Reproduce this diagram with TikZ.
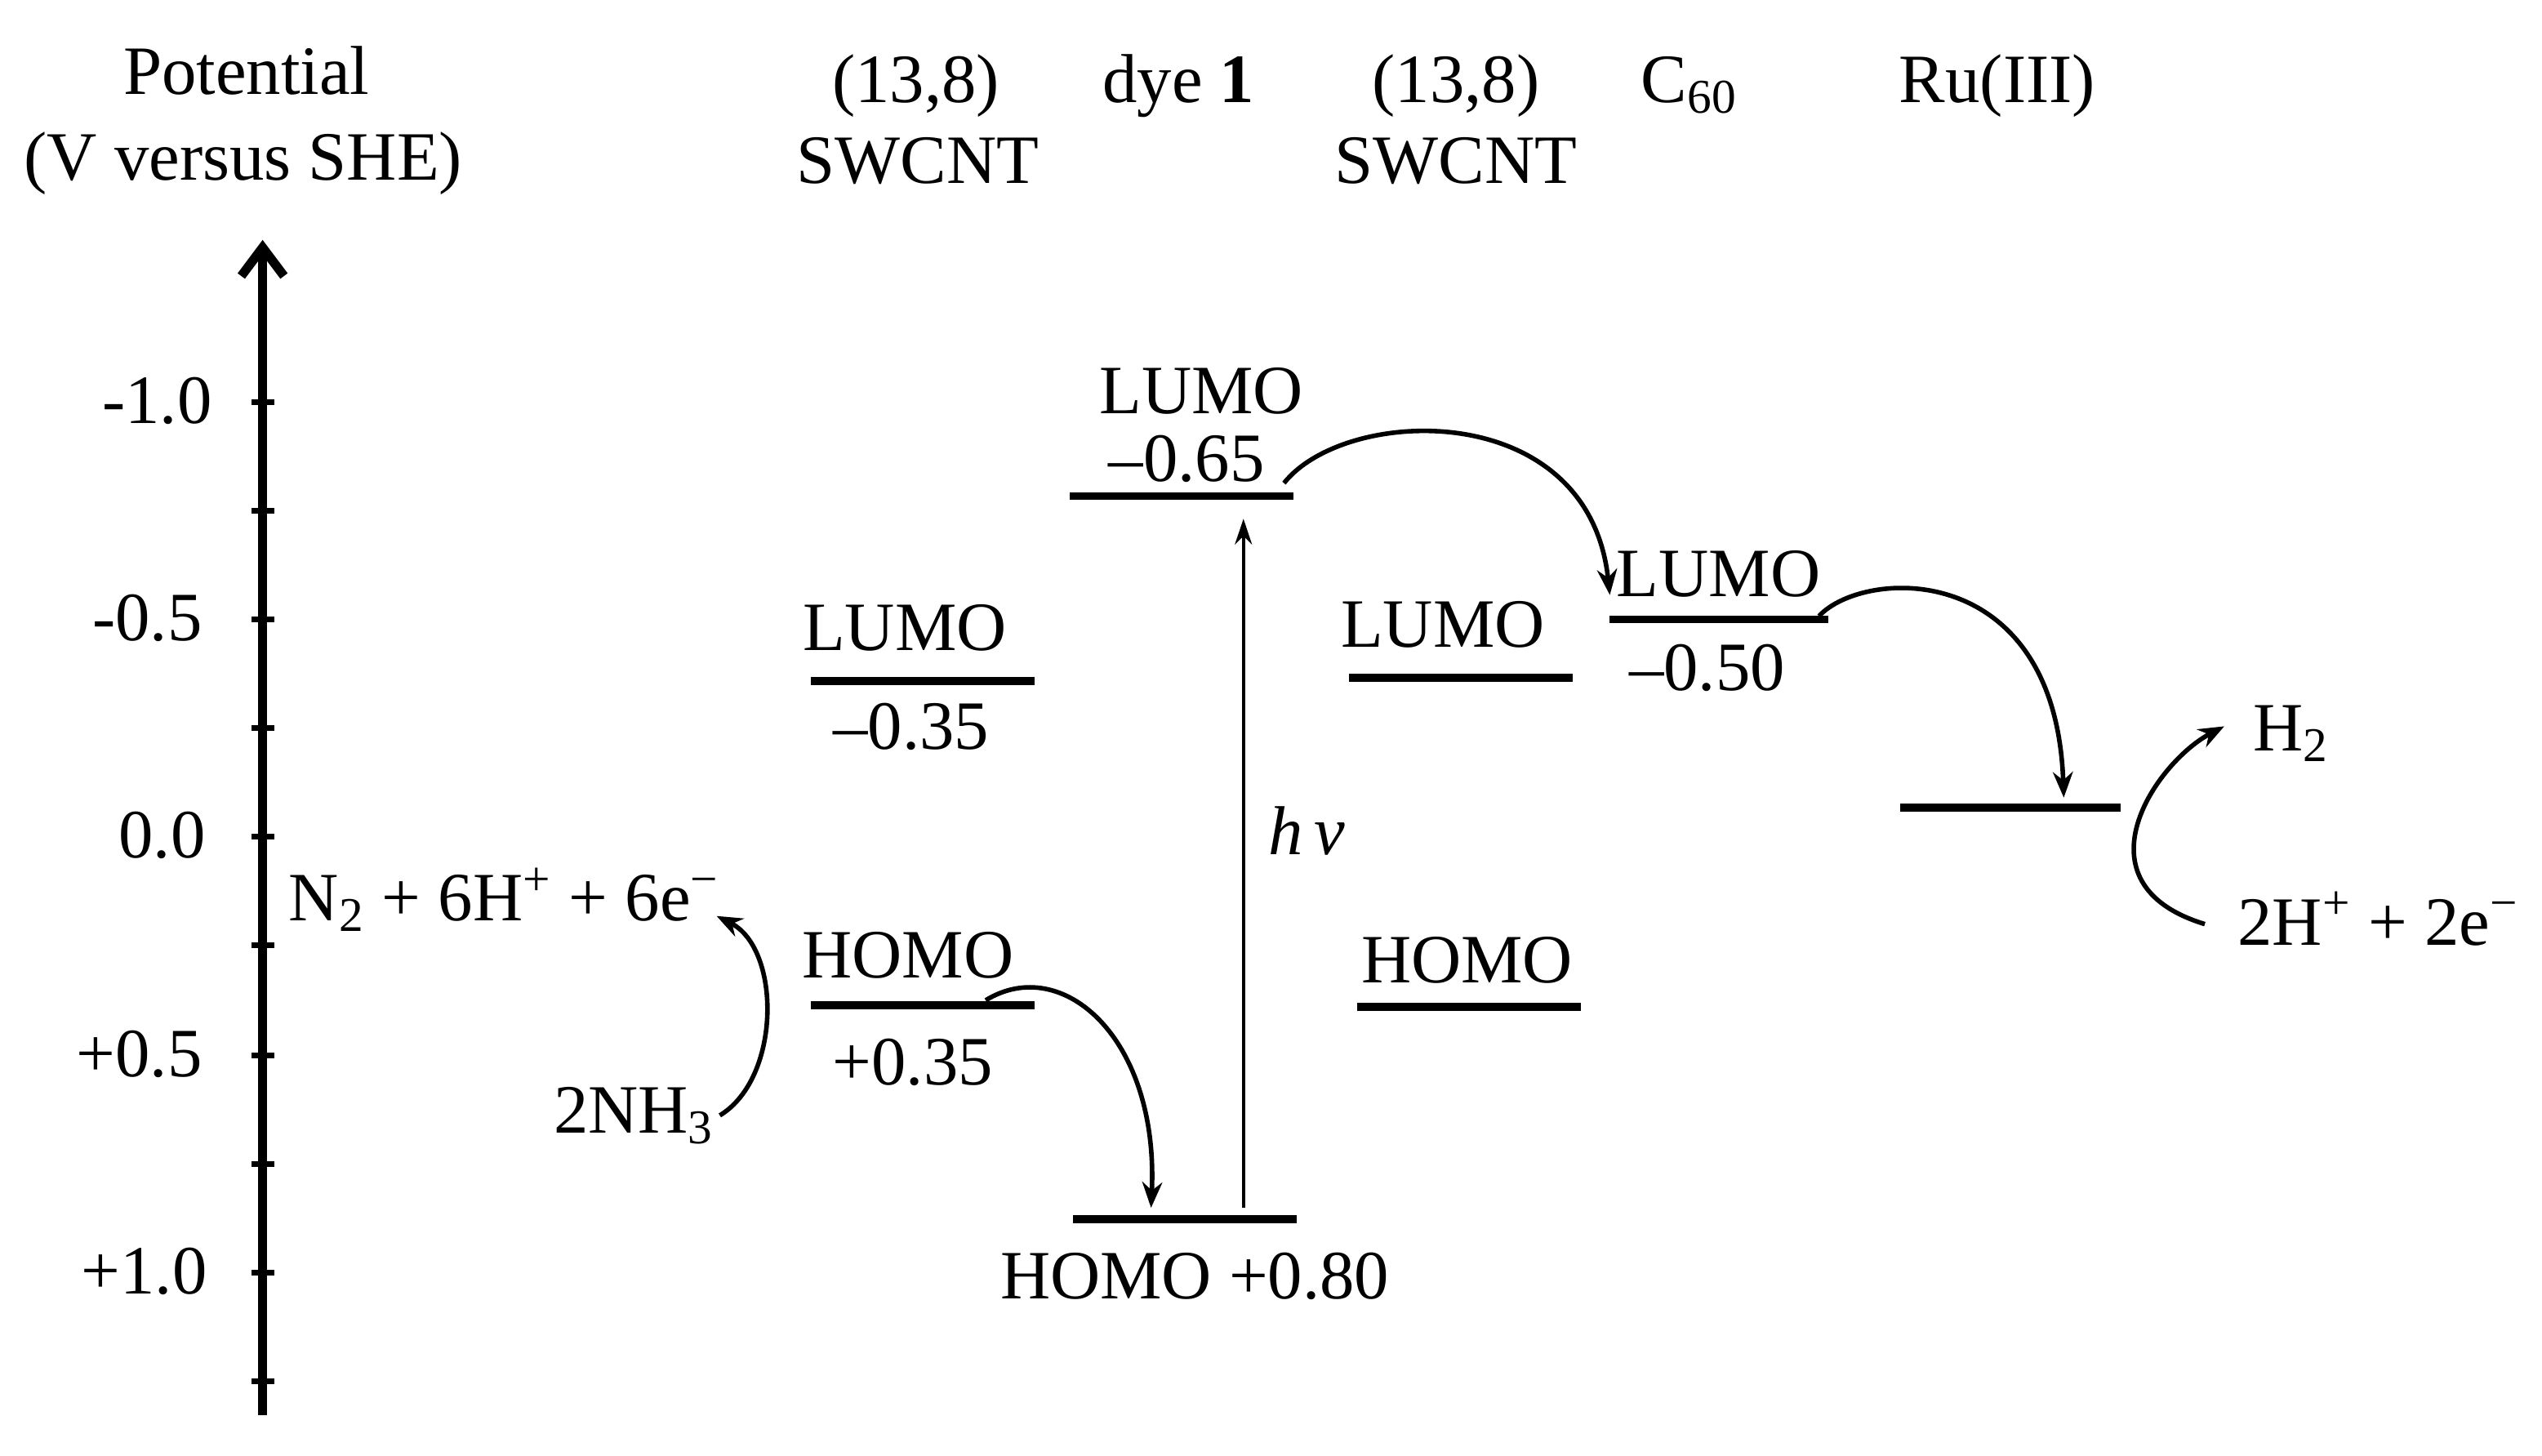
\documentclass[tikz,border=0pt]{standalone}
\usepackage{fontspec}
\setmainfont{Liberation Serif}
\usetikzlibrary{arrows.meta}
\begin{document}
\begin{tikzpicture}[x=0.02cm,y=-0.02cm,
  every node/.style={font=\fontsize{24.3}{28}\selectfont, inner sep=0pt, anchor=base},
  lvl/.style={line width=2.8pt},
  axisline/.style={line width=3.2pt},
  tick/.style={line width=2.2pt},
  etrans/.style={line width=1.6pt,-{Stealth[length=9pt,width=7pt]}},
  photon/.style={line width=1.1pt,-{Stealth[length=9pt,width=6pt]}},
  ticklab/.style={anchor=base east},
  ]
\useasboundingbox (0,0) rectangle (1568,898);
% headers
\node (pot) at (152,58) {Potential};
\node (vshe) at (150,111) {(V versus SHE)};
\node (h1a) at (565,63) {(13,8)};
\node (h1b) at (566,113) {SWCNT};
\node (h2) at (727,63) {dye \textbf{1}};
\node (h3a) at (898,63) {(13,8)};
\node (h3b) at (898,113) {SWCNT};
\node (h4) at (1042,63) {C\textsubscript{60}};
\node (h5) at (1232,63) {Ru(III)};
% axis
\coordinate (axb) at (162,873);
\coordinate (axt) at (162,148);
\draw[axisline,-{Straight Barb[length=10pt,width=15pt,line width=3.2pt]}] (axb) -- (axt);
\foreach \yy in {248,315,382,449,516,583,651,718,785,852}
  \draw[tick] (155,\yy) -- (169,\yy);
\node[ticklab] (t1) at (131,261) {-1.0};
\node[ticklab] (t2) at (125,395) {-0.5};
\node[ticklab] (t3) at (127,529) {0.0};
\node[ticklab] (t4) at (125,664) {+0.5};
\node[ticklab] (t5) at (128,798) {+1.0};
% levels
\coordinate (s1La) at (500,420); \coordinate (s1Lb) at (638,420);
\coordinate (s1Ha) at (500,620); \coordinate (s1Hb) at (638,620);
\coordinate (dLa) at (660,306); \coordinate (dLb) at (798,306);
\coordinate (dHa) at (662,752); \coordinate (dHb) at (800,752);
\coordinate (s2La) at (832,418); \coordinate (s2Lb) at (970,418);
\coordinate (s2Ha) at (837,621); \coordinate (s2Hb) at (975,621);
\coordinate (cLa) at (993,382); \coordinate (cLb) at (1128,382);
\coordinate (rua) at (1172,498); \coordinate (rub) at (1308,498);
\draw[lvl] (s1La) -- (s1Lb);
\draw[lvl] (s1Ha) -- (s1Hb);
\draw[lvl] (dLa) -- (dLb);
\draw[lvl] (dHa) -- (dHb);
\draw[lvl] (s2La) -- (s2Lb);
\draw[lvl] (s2Ha) -- (s2Hb);
\draw[lvl] (cLa) -- (cLb);
\draw[lvl] (rua) -- (rub);
% level labels
\node (l1) at (558,401) {LUMO};
\node (v1) at (562,462) {–0.35};
\node (l2) at (560,603) {HOMO};
\node (v2) at (563,669) {+0.35};
\node (l3) at (741,255) {LUMO};
\node (v3) at (732,297) {–0.65};
\node (l4) at (737,801) {HOMO +0.80};
\node (l5) at (890,399) {LUMO};
\node (l6) at (905,606) {HOMO};
\node (l7) at (1060,368) {LUMO};
\node (v7) at (1053,426) {–0.50};
\node (hv) at (806,527) {\textit{h}\,\textit{ν}};
% reactions
\node (n2) at (311,568) {N\textsubscript{2} + 6H\textsuperscript{+} + 6e\textsuperscript{−}};
\node (nh3) at (391,699) {2NH\textsubscript{3}};
\node (h2g) at (1413,463) {H\textsubscript{2}};
\node (hp) at (1467,583) {2H\textsuperscript{+} + 2e\textsuperscript{−}};
% connectors
\coordinate (pb) at (767,745);
\coordinate (pt) at (767,320);
\draw[photon] (pb) -- (pt);
\coordinate (a1s) at (792,298);
\coordinate (a1e) at (993,367);
\draw[etrans] (a1s) .. controls (830,250) and (980,245) .. (a1e);
\coordinate (a2s) at (1122,380);
\coordinate (a2e) at (1273,492);
\draw[etrans] (a2s) .. controls (1150,350) and (1268,345) .. (a2e);
\coordinate (a3s) at (608,617);
\coordinate (a3e) at (710,745);
\draw[etrans] (a3s) .. controls (655,588) and (715,640) .. (a3e);
\coordinate (a4s) at (444,688);
\coordinate (a4e) at (442,565);
\draw[etrans] (a4s) .. controls (482,665) and (482,585) .. (a4e);
\coordinate (a5s) at (1360,570);
\coordinate (a5e) at (1372,448);
\draw[etrans] (a5s) .. controls (1278,545) and (1330,470) .. (a5e);
\end{tikzpicture}
\end{document}
